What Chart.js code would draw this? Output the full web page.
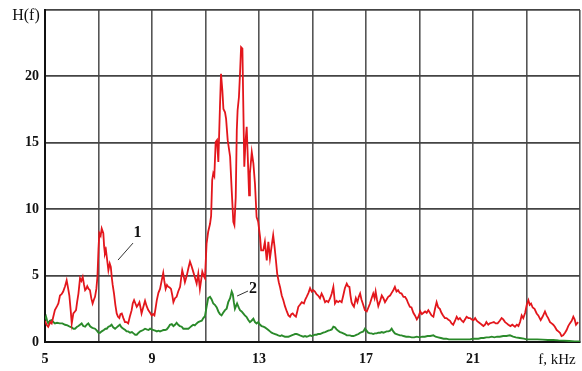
<!DOCTYPE html>
<html>
<head>
<meta charset="utf-8">
<script src="https://cdn.jsdelivr.net/npm/chart.js@4.4.1/dist/chart.umd.min.js"></script>
<style>
  html, body { margin: 0; padding: 0; background: #ffffff; }
  #wrap { width: 582px; height: 371px; }
</style>
</head>
<body>
<div id="wrap"><canvas id="c" width="582" height="371"></canvas></div>
<script>
// Frequency axis (kHz) and amplitude axis H(f)
const freqTicks = [5, 9, 13, 17, 21];
const ampTicks = [0, 5, 10, 15, 20];

// Curve 1: [f, kHz ; H(f)]
const curve1 = [
  [5.00,1.6],[5.06,1.3],[5.12,1.15],[5.2,1.5],[5.25,1.4],[5.31,1.9],[5.37,2.4],[5.45,2.7],[5.5,2.9],[5.56,3.5],
  [5.62,3.6],[5.68,3.8],[5.75,4.2],[5.81,4.65],[5.86,4.1],[5.91,3.5],[5.96,2.4],[6.0,1.4],[6.06,2.15],[6.12,2.3],
  [6.16,2.4],[6.2,3.0],[6.25,3.65],[6.31,4.8],[6.36,4.6],[6.41,4.9],[6.46,4.3],[6.5,3.9],[6.54,4.0],[6.58,4.2],
  [6.63,4.0],[6.68,3.9],[6.73,3.3],[6.78,2.9],[6.83,3.2],[6.87,3.4],[6.92,4.0],[6.96,4.9],[7.0,7.0],[7.03,8.2],
  [7.08,8.0],[7.12,8.55],[7.18,8.2],[7.21,7.2],[7.24,6.65],[7.28,6.9],[7.31,6.4],[7.37,5.4],[7.42,5.9],[7.46,5.65],
  [7.5,4.8],[7.53,4.3],[7.58,3.65],[7.63,2.8],[7.68,2.15],[7.73,1.9],[7.78,1.8],[7.82,2.1],[7.87,2.15],[7.93,1.8],
  [7.99,1.5],[8.05,1.5],[8.11,1.4],[8.17,1.9],[8.24,2.4],[8.28,2.9],[8.33,3.15],[8.38,2.9],[8.43,2.65],[8.48,2.8],
  [8.53,3.0],[8.57,2.6],[8.61,2.15],[8.67,2.6],[8.74,3.1],[8.8,2.7],[8.86,2.4],[8.93,2.2],[8.99,2.0],[9.04,2.1],
  [9.09,2.0],[9.13,2.5],[9.18,3.15],[9.24,3.7],[9.3,4.0],[9.36,4.6],[9.42,5.2],[9.46,4.6],[9.51,4.0],[9.56,4.3],
  [9.61,4.15],[9.66,4.1],[9.71,4.0],[9.76,3.5],[9.8,3.0],[9.86,3.3],[9.92,3.4],[9.98,3.8],[10.05,4.15],[10.09,4.8],
  [10.13,5.4],[10.18,5.0],[10.23,4.5],[10.3,5.0],[10.36,5.55],[10.42,6.05],[10.48,5.7],[10.54,5.3],[10.6,4.9],[10.67,4.4],
  [10.73,5.15],[10.79,4.0],[10.84,4.7],[10.88,5.3],[10.93,5.0],[10.98,4.8],[11.04,7.4],[11.1,8.3],[11.17,8.9],[11.21,9.5],
  [11.25,12.2],[11.29,12.7],[11.33,12.5],[11.38,15.05],[11.43,15.2],[11.48,13.55],[11.54,17.7],[11.58,20.2],[11.63,18.95],[11.67,17.55],
  [11.73,17.3],[11.77,16.8],[11.83,15.2],[11.92,13.95],[11.98,11.4],[12.04,9.05],[12.08,8.8],[12.13,10.9],[12.17,15.95],[12.2,17.45],
  [12.25,18.45],[12.29,20.2],[12.33,22.2],[12.38,22.1],[12.41,18.2],[12.45,13.2],[12.5,15.2],[12.54,16.2],[12.58,13.95],[12.63,11.05],
  [12.66,12.7],[12.73,14.3],[12.79,13.45],[12.85,11.9],[12.91,9.4],[12.97,9.05],[13.04,7.9],[13.08,6.9],[13.16,6.9],[13.22,7.55],
  [13.29,6.15],[13.35,7.55],[13.41,6.3],[13.47,7.2],[13.53,8.05],[13.58,7.2],[13.63,6.2],[13.68,5.15],[13.74,4.5],[13.79,4.1],
  [13.85,3.5],[13.91,3.15],[13.97,2.7],[14.04,2.3],[14.1,2.0],[14.16,1.9],[14.21,2.1],[14.26,2.15],[14.32,2.0],[14.38,1.9],
  [14.43,2.3],[14.47,2.65],[14.53,2.8],[14.6,3.0],[14.68,2.9],[14.73,3.2],[14.78,3.4],[14.85,3.7],[14.91,4.05],[14.97,3.8],
  [15.03,3.9],[15.09,3.8],[15.15,3.6],[15.21,3.5],[15.28,3.3],[15.34,3.65],[15.4,3.4],[15.47,3.0],[15.53,3.1],[15.59,3.0],
  [15.66,3.3],[15.72,3.65],[15.78,4.15],[15.84,2.9],[15.9,3.1],[15.96,3.0],[16.02,3.1],[16.09,3.0],[16.15,3.5],[16.21,4.05],
  [16.28,4.4],[16.33,4.2],[16.38,4.15],[16.42,3.5],[16.46,3.0],[16.5,2.8],[16.55,2.65],[16.62,3.3],[16.68,3.0],[16.73,3.4],
  [16.78,3.65],[16.83,3.2],[16.88,2.9],[16.96,2.4],[17.03,2.3],[17.09,2.6],[17.15,2.9],[17.21,3.3],[17.27,3.65],[17.32,3.3],
  [17.36,3.8],[17.41,3.2],[17.46,2.7],[17.53,3.1],[17.59,3.5],[17.65,3.3],[17.71,3.0],[17.77,3.2],[17.83,3.4],[17.9,3.5],
  [17.96,3.7],[18.02,3.9],[18.08,4.15],[18.14,3.8],[18.2,3.9],[18.26,3.7],[18.33,3.65],[18.4,3.4],[18.46,3.4],[18.52,3.2],
  [18.58,2.9],[18.64,2.65],[18.7,2.6],[18.77,2.2],[18.83,2.0],[18.9,1.7],[18.96,1.9],[19.03,2.3],[19.09,2.1],[19.15,2.2],
  [19.21,2.3],[19.27,2.2],[19.33,2.4],[19.39,2.2],[19.45,2.0],[19.52,1.9],[19.58,2.5],[19.64,3.0],[19.7,2.6],[19.76,2.5],
  [19.82,2.2],[19.88,2.0],[19.95,1.8],[20.01,1.8],[20.07,1.7],[20.14,1.6],[20.2,1.4],[20.26,1.3],[20.33,1.6],[20.39,1.9],
  [20.45,1.7],[20.51,1.8],[20.58,1.6],[20.64,1.5],[20.7,1.7],[20.76,1.9],[20.83,1.8],[20.89,1.8],[20.95,1.7],[21.02,1.65],
  [21.08,1.8],[21.14,1.6],[21.2,1.5],[21.27,1.4],[21.33,1.3],[21.39,1.2],[21.45,1.3],[21.5,1.5],[21.57,1.3],[21.63,1.4],
  [21.7,1.45],[21.78,1.5],[21.85,1.4],[21.92,1.4],[22.0,1.6],[22.07,1.8],[22.13,1.7],[22.2,1.5],[22.26,1.4],[22.32,1.3],
  [22.4,1.2],[22.47,1.3],[22.57,1.15],[22.64,1.3],[22.7,1.2],[22.76,1.5],[22.82,2.0],[22.88,1.8],[22.95,2.2],[23.01,2.8],
  [23.07,3.15],[23.12,2.8],[23.17,2.9],[23.23,2.6],[23.3,2.5],[23.38,2.15],[23.44,2.0],[23.53,1.65],[23.6,1.9],[23.69,2.3],
  [23.75,2.0],[23.81,1.8],[23.88,1.5],[23.94,1.4],[24.0,1.3],[24.06,1.15],[24.13,0.9],[24.19,0.8],[24.25,0.7],[24.31,0.45],
  [24.37,0.5],[24.44,0.7],[24.5,0.9],[24.56,1.2],[24.62,1.4],[24.69,1.6],[24.75,1.9],[24.8,1.7],[24.85,1.3],[24.93,1.5]
];

// Curve 2: [f, kHz ; H(f)]
const curve2 = [
  [5.0,1.7],[5.04,1.9],[5.08,1.6],[5.12,1.4],[5.18,1.6],[5.25,1.65],[5.31,1.5],[5.37,1.4],[5.45,1.45],[5.55,1.4],
  [5.65,1.4],[5.75,1.3],[5.84,1.25],[5.93,1.15],[6.0,1.1],[6.06,1.0],[6.12,1.0],[6.2,1.15],[6.25,1.2],[6.31,1.3],
  [6.37,1.4],[6.43,1.2],[6.5,1.15],[6.56,1.3],[6.62,1.4],[6.68,1.2],[6.74,1.1],[6.8,1.05],[6.87,1.0],[6.94,0.85],
  [7.0,0.7],[7.06,0.7],[7.12,0.8],[7.2,0.9],[7.26,1.0],[7.31,1.0],[7.37,1.15],[7.43,1.2],[7.49,1.3],[7.55,1.1],
  [7.62,1.0],[7.68,1.1],[7.74,1.2],[7.8,1.3],[7.86,1.1],[7.93,1.0],[8.0,0.9],[8.05,0.8],[8.11,0.8],[8.18,0.7],
  [8.25,0.75],[8.31,0.65],[8.37,0.55],[8.43,0.55],[8.5,0.7],[8.56,0.8],[8.62,0.85],[8.67,0.9],[8.74,1.0],[8.8,0.95],
  [8.87,0.9],[8.93,1.0],[8.99,0.95],[9.06,0.9],[9.12,0.85],[9.18,0.8],[9.24,0.85],[9.3,0.8],[9.37,0.85],[9.43,0.9],
  [9.49,0.9],[9.55,0.95],[9.61,1.1],[9.67,1.3],[9.74,1.35],[9.8,1.2],[9.86,1.3],[9.92,1.45],[9.98,1.3],[10.04,1.2],
  [10.11,1.15],[10.17,1.0],[10.23,1.0],[10.3,1.0],[10.36,1.0],[10.42,1.1],[10.48,1.2],[10.54,1.3],[10.6,1.25],[10.67,1.4],
  [10.73,1.5],[10.79,1.55],[10.86,1.6],[10.92,1.8],[10.98,1.95],[11.04,2.65],[11.1,3.3],[11.17,3.4],[11.23,3.2],[11.29,2.9],
  [11.35,2.8],[11.42,2.6],[11.48,2.3],[11.54,2.1],[11.6,2.0],[11.66,2.2],[11.73,2.4],[11.79,2.5],[11.85,3.0],[11.92,3.3],
  [11.98,3.8],[12.02,3.6],[12.06,3.0],[12.1,2.5],[12.14,2.7],[12.18,2.9],[12.24,2.6],[12.29,2.4],[12.35,2.3],[12.41,2.15],
  [12.47,2.0],[12.53,1.9],[12.6,1.65],[12.66,1.5],[12.72,1.6],[12.79,1.75],[12.85,1.5],[12.91,1.4],[12.97,1.5],[13.04,1.3],
  [13.1,1.2],[13.16,1.15],[13.22,1.1],[13.29,1.0],[13.35,0.9],[13.41,0.8],[13.47,0.7],[13.53,0.65],[13.6,0.6],[13.66,0.55],
  [13.72,0.5],[13.79,0.45],[13.85,0.5],[13.91,0.45],[13.97,0.4],[14.04,0.4],[14.1,0.4],[14.16,0.45],[14.22,0.5],[14.29,0.55],
  [14.35,0.6],[14.41,0.6],[14.47,0.55],[14.53,0.5],[14.6,0.45],[14.66,0.4],[14.72,0.45],[14.78,0.4],[14.85,0.45],[14.91,0.5],
  [14.97,0.45],[15.03,0.5],[15.09,0.55],[15.15,0.55],[15.21,0.6],[15.28,0.6],[15.34,0.65],[15.4,0.7],[15.47,0.75],[15.53,0.8],
  [15.59,0.85],[15.66,0.9],[15.72,0.95],[15.78,1.15],[15.84,1.1],[15.9,0.95],[15.96,0.85],[16.03,0.75],[16.09,0.7],[16.15,0.65],
  [16.21,0.6],[16.28,0.5],[16.34,0.5],[16.4,0.5],[16.47,0.45],[16.53,0.45],[16.6,0.5],[16.66,0.55],[16.72,0.6],[16.78,0.7],
  [16.84,0.75],[16.9,0.8],[16.96,1.0],[17.02,0.85],[17.08,0.7],[17.15,0.65],[17.21,0.65],[17.27,0.6],[17.33,0.65],[17.4,0.65],
  [17.46,0.7],[17.53,0.7],[17.59,0.75],[17.65,0.7],[17.71,0.75],[17.77,0.8],[17.84,0.8],[17.9,0.85],[17.96,1.0],[18.02,0.8],
  [18.08,0.65],[18.14,0.6],[18.2,0.55],[18.27,0.5],[18.33,0.5],[18.4,0.45],[18.5,0.4],[18.6,0.4],[18.71,0.35],[18.8,0.35],
  [18.9,0.4],[19.0,0.35],[19.1,0.4],[19.2,0.4],[19.3,0.45],[19.4,0.45],[19.52,0.5],[19.6,0.4],[19.7,0.35],[19.8,0.3],
  [19.9,0.25],[20.0,0.25],[20.1,0.2],[20.2,0.2],[20.33,0.2],[20.45,0.2],[20.6,0.2],[20.75,0.2],[20.89,0.2],[21.0,0.25],
  [21.1,0.25],[21.2,0.25],[21.3,0.3],[21.4,0.3],[21.5,0.35],[21.6,0.35],[21.7,0.4],[21.8,0.35],[21.9,0.4],[22.0,0.4],
  [22.13,0.45],[22.25,0.45],[22.38,0.5],[22.5,0.4],[22.6,0.35],[22.75,0.3],[22.9,0.25],[23.0,0.2],[23.2,0.2],[23.4,0.2],
  [23.6,0.18],[23.8,0.15],[24.0,0.15],[24.2,0.12],[24.4,0.1],[24.6,0.08],[24.8,0.05],[25.0,0.05]
];

// Curve labels with leader lines, in data units: [text, labelF, labelH, fromF, fromH, toF, toH]
const curveLabels = [
  ['1', 8.46, 8.25, 7.73, 6.17, 8.29, 7.45],
  ['2', 12.78, 3.98, 12.18, 3.46, 12.59, 3.84]
];

const serif = '"Liberation Serif", "Times New Roman", serif';

const toXY = arr => arr.map(p => ({ x: p[0], y: p[1] }));

const textPlugin = {
  id: 'axisTexts',
  afterDatasetsDraw(chart) {
    const { ctx, chartArea, scales } = chart;
    const xs = scales.x, ys = scales.y;
    ctx.save();
    ctx.fillStyle = '#111';
    ctx.textAlign = 'center';
    ctx.textBaseline = 'middle';
    ctx.font = '16px ' + serif;
    ctx.fillText('H(f)', chartArea.left - 19, chartArea.top + 6);
    ctx.font = '15px ' + serif;
    ctx.fillText('f, kHz', chartArea.right - 23, chartArea.bottom + 18);

    curveLabels.forEach(l => {
      ctx.strokeStyle = '#333';
      ctx.lineWidth = 1;
      ctx.beginPath();
      ctx.moveTo(xs.getPixelForValue(l[3]), ys.getPixelForValue(l[4]));
      ctx.lineTo(xs.getPixelForValue(l[5]), ys.getPixelForValue(l[6]));
      ctx.stroke();
      ctx.font = 'bold 16px ' + serif;
      ctx.fillText(l[0], xs.getPixelForValue(l[1]), ys.getPixelForValue(l[2]));
    });
    ctx.restore();
  }
};

new Chart(document.getElementById('c'), {
  type: 'line',
  data: {
    datasets: [
      {
        label: '1',
        data: toXY(curve1),
        borderColor: '#e3161c',
        borderWidth: 1.8,
        pointRadius: 0,
        tension: 0,
        fill: false
      },
      {
        label: '2',
        data: toXY(curve2),
        borderColor: '#2a8a2a',
        borderWidth: 1.9,
        pointRadius: 0,
        tension: 0,
        fill: false
      }
    ]
  },
  options: {
    responsive: false,
    animation: false,
    devicePixelRatio: 1,
    layout: { padding: { top: 10, right: 2, left: 0, bottom: 0 } },
    plugins: {
      legend: { display: false },
      tooltip: { enabled: false }
    },
    scales: {
      x: {
        type: 'linear',
        min: 5,
        max: 25,
        afterFit: s => { s.height = 29; s.paddingLeft = 0; s.paddingRight = 0; },
        ticks: {
          stepSize: 2,
          autoSkip: false,
          maxRotation: 0,
          padding: 9,
          color: '#111',
          font: { family: serif, size: 14, weight: 'bold' },
          callback: v => freqTicks.includes(v) ? String(v) : ''
        },
        grid: { color: '#555', lineWidth: 1.6, drawTicks: false },
        border: { color: '#111', width: 2 }
      },
      y: {
        type: 'linear',
        min: 0,
        max: 25,
        afterFit: s => { s.width = 45; s.paddingTop = 0; s.paddingBottom = 0; },
        ticks: {
          stepSize: 5,
          padding: 6,
          color: '#111',
          font: { family: serif, size: 14, weight: 'bold' },
          callback: v => ampTicks.includes(v) ? String(v) : ''
        },
        grid: { color: '#444', lineWidth: 1.8, drawTicks: false },
        border: { color: '#111', width: 2 }
      }
    }
  },
  plugins: [textPlugin]
});
</script>
</body>
</html>
